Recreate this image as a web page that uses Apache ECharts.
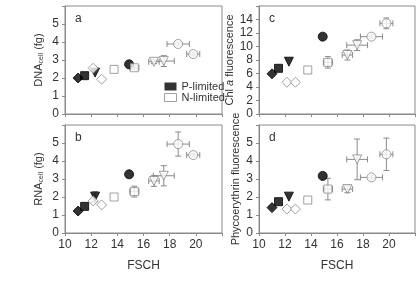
<!DOCTYPE html>
<html>
<head>
<meta charset="utf-8">
<script src="https://cdn.jsdelivr.net/npm/echarts@6/dist/echarts.min.js"></script>
<style>
  html, body { margin: 0; padding: 0; background: #fff; }
  #main { width: 419px; height: 290px; }
</style>
</head>
<body>
<div id="main"></div>
<script>
// point order: P-limited diamond, square, triangle, circle; then N-limited diamond x2, square x2, triangle x2, circle x2
const condition = ['P', 'P', 'P', 'P', 'N', 'N', 'N', 'N', 'N', 'N', 'N', 'N'];
const shapes = ['diamond', 'rect', 'triangle', 'circle', 'diamond', 'diamond', 'rect', 'rect', 'triangle', 'triangle', 'circle', 'circle'];

const fsch = [11.0, 11.5, 12.3, 14.9, 12.15, 12.8, 13.75, 15.3, 16.8, 17.55, 18.65, 19.8];
const fschErr = [0, 0, 0, 0, 0, 0, 0, 0.35, 0.4, 0.8, 0.85, 0.5];

const dna = [2.0, 2.13, 2.3, 2.76, 2.54, 1.93, 2.48, 2.57, 2.9, 2.94, 3.89, 3.33];
const dnaErr = [0, 0, 0, 0, 0, 0, 0, 0.1, 0.1, 0.3, 0.1, 0.1];
const rna = [1.22, 1.48, 2.02, 3.26, 1.78, 1.56, 2.0, 2.3, 2.89, 3.18, 4.94, 4.33];
const rnaErr = [0, 0, 0.28, 0, 0.1, 0, 0, 0.3, 0.3, 0.56, 0.67, 0.1];
const chl = [5.95, 6.77, 7.75, 11.46, 4.7, 4.7, 6.52, 7.65, 8.74, 10.2, 11.46, 13.43];
const chlErr = [0, 0, 0, 0, 0, 0, 0, 0.85, 0.75, 0.8, 0.3, 0.8];
const pe = [1.41, 1.74, 2.02, 3.17, 1.33, 1.33, 1.83, 2.44, 2.44, 4.09, 3.09, 4.37];
const peErr = [0, 0, 0, 0, 0, 0, 0, 0.6, 0.2, 1.13, 0.1, 0.9];

const panelLetters = ['a', 'b', 'c', 'd'];
const legendNames = ['P-limited', 'N-limited'];

const chart = echarts.init(document.getElementById('main'));

const grey = '#8a8a8a';
const textCol = '#333';
const font = 'Liberation Sans, Arial, sans-serif';

const grids = [
  { left: 65, top: 6, width: 157, height: 108 },
  { left: 65, top: 125, width: 157, height: 108 },
  { left: 259, top: 6, width: 156, height: 108 },
  { left: 259, top: 125, width: 156, height: 108 }
];

const panels = [
  { y: dna, e: dnaErr, max: 6, step: 1, name: '{n|DNA}{s|cell}{n| (fg)}', gap: 20 },
  { y: rna, e: rnaErr, max: 6, step: 1, name: '{n|RNA}{s|cell}{n| (fg)}', gap: 20 },
  { y: chl, e: chlErr, max: 16, step: 2, name: '{n|Chl }{i|a}{n| fluorescence}', gap: 18 },
  { y: pe, e: peErr, max: 6, step: 1, name: '{n|Phycoerythrin fluorescence}', gap: 18 }
];

const symSize = { diamond: 10, rect: 8, triangle: 9, circle: 9 };

function pointItem(i, yv) {
  const filled = condition[i] === 'P';
  return {
    value: [fsch[i], yv[i]],
    symbol: shapes[i],
    symbolSize: symSize[shapes[i]],
    symbolRotate: shapes[i] === 'triangle' ? 180 : 0,
    itemStyle: filled
      ? { color: '#000', borderColor: '#000', borderWidth: 1 }
      : { color: '#fff', borderColor: grey, borderWidth: 1 }
  };
}

function errRender(params, api) {
  const x = api.value(0), y = api.value(1), xe = api.value(2), ye = api.value(3);
  const kids = [];
  const st = { stroke: grey, lineWidth: 1 };
  const cap = 3;
  if (xe > 0) {
    const a = api.coord([x - xe, y]), b = api.coord([x + xe, y]);
    kids.push({ type: 'line', shape: { x1: a[0], y1: a[1], x2: b[0], y2: b[1] }, style: st });
    kids.push({ type: 'line', shape: { x1: a[0], y1: a[1] - cap, x2: a[0], y2: a[1] + cap }, style: st });
    kids.push({ type: 'line', shape: { x1: b[0], y1: b[1] - cap, x2: b[0], y2: b[1] + cap }, style: st });
  }
  if (ye > 0) {
    const a = api.coord([x, y - ye]), b = api.coord([x, y + ye]);
    kids.push({ type: 'line', shape: { x1: a[0], y1: a[1], x2: b[0], y2: b[1] }, style: st });
    kids.push({ type: 'line', shape: { x1: a[0] - cap, y1: a[1], x2: a[0] + cap, y2: a[1] }, style: st });
    kids.push({ type: 'line', shape: { x1: b[0] - cap, y1: b[1], x2: b[0] + cap, y2: b[1] }, style: st });
  }
  return { type: 'group', children: kids };
}

const xAxes = [], yAxes = [], series = [], graphics = [];

panels.forEach((p, k) => {
  const bottom = k === 1 || k === 3;
  xAxes.push({
    gridIndex: k, type: 'value', min: 10, max: 22, interval: 2,
    name: bottom ? 'FSCH' : '', nameLocation: 'middle', nameGap: 27,
    nameTextStyle: { fontSize: 12, color: textCol, fontFamily: font },
    axisLine: { lineStyle: { color: grey } },
    axisTick: { show: true, length: 3, lineStyle: { color: grey } },
    axisLabel: {
      show: bottom, fontSize: 12, color: textCol, fontFamily: font, margin: 6,
      formatter: v => (v > 20 ? '' : v)
    },
    splitLine: { show: false }
  });
  yAxes.push({
    gridIndex: k, type: 'value', min: 0, max: p.max, interval: p.step,
    name: p.name, nameLocation: 'middle', nameGap: p.gap, nameRotate: 90,
    nameTextStyle: {
      color: textCol, fontFamily: font,
      rich: {
        n: { fontSize: 11, color: textCol, fontFamily: font },
        i: { fontSize: 11, color: textCol, fontFamily: font, fontStyle: 'italic' },
        s: { fontSize: 7, color: textCol, fontFamily: font, padding: [6, 0, 0, 0] }
      }
    },
    axisLine: { show: true, lineStyle: { color: grey } },
    axisTick: { show: true, length: 3, lineStyle: { color: grey } },
    axisLabel: {
      fontSize: 12, color: textCol, fontFamily: font, margin: 6,
      formatter: v => (v >= p.max ? '' : v)
    },
    splitLine: { show: false }
  });

  series.push({
    type: 'custom', xAxisIndex: k, yAxisIndex: k, z: 1, silent: true,
    renderItem: errRender,
    encode: { x: 0, y: 1 },
    data: fsch.map((x, i) => [x, p.y[i], fschErr[i], p.e[i]])
  });
  ['P', 'N'].forEach((c, ci) => {
    const items = [];
    fsch.forEach((x, i) => { if (condition[i] === c) items.push(pointItem(i, p.y)); });
    series.push({
      name: legendNames[ci], type: 'scatter', xAxisIndex: k, yAxisIndex: k, z: 3,
      data: items
    });
  });

  graphics.push({
    type: 'text', left: grids[k].left + 10, top: grids[k].top + 7,
    style: { text: panelLetters[k], fontSize: 12, fill: textCol, fontFamily: font }
  });
});

chart.setOption({
  animation: false,
  grid: grids.map(g => Object.assign({ show: true, borderColor: grey, borderWidth: 1, backgroundColor: 'transparent' }, g)),
  xAxis: xAxes,
  yAxis: yAxes,
  legend: {
    orient: 'vertical', left: 159, top: 76, itemWidth: 12, itemHeight: 8, itemGap: 0,
    selectedMode: false,
    textStyle: { fontSize: 11, color: textCol, fontFamily: font },
    data: [
      { name: 'P-limited', icon: 'rect', itemStyle: { color: '#000', borderColor: '#000' } },
      { name: 'N-limited', icon: 'rect', itemStyle: { color: '#fff', borderColor: grey, borderWidth: 1 } }
    ]
  },
  graphic: graphics,
  series: series
});
</script>
</body>
</html>
